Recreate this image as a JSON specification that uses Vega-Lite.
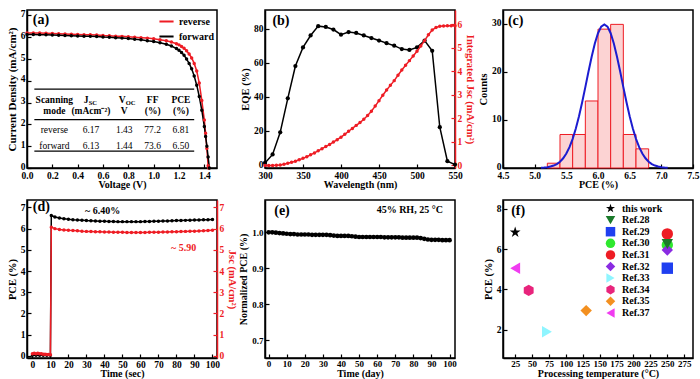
{
"$schema":"https://vega.github.io/schema/vega-lite/v6.json",
"background":"white",
"padding":{"left":5,"top":7,"right":0,"bottom":0},
"bounds":"flush",
"columns":3,
"spacing":{"row":32,"column":48},
"resolve":{"scale":{"color":"independent","shape":"independent"},"legend":{"color":"independent","shape":"independent"}},
"config":{
 "view":{"stroke":"black","strokeWidth":1.5},
 "font":"Liberation Serif",
 "axis":{"labelFont":"Liberation Serif","labelFontWeight":"bold","labelFontSize":9.5,"labelColor":"black","titleFont":"Liberation Serif","titleFontWeight":"bold","titleFontSize":10.5,"titleColor":"black","domainColor":"black","domainWidth":1.5,"tickColor":"black","tickWidth":1.2,"tickSize":-4,"labelPadding":6,"grid":false,"titlePadding":3,"labelFlush":false,"labelOverlap":false},
 "axisX":{"titleFontSize":10,"labelPadding":5,"titlePadding":0},
 "legend":{"labelFont":"Liberation Serif","labelFontWeight":"bold","labelFontSize":10,"labelColor":"black"},
 "text":{"font":"Liberation Serif"}
},
"datasets":{
 "jv":[
  {"V":0,"J":6.20,"scan":"reverse"},{"V":0.05,"J":6.20,"scan":"reverse"},{"V":0.1,"J":6.19,"scan":"reverse"},{"V":0.15,"J":6.18,"scan":"reverse"},{"V":0.2,"J":6.17,"scan":"reverse"},{"V":0.25,"J":6.16,"scan":"reverse"},{"V":0.3,"J":6.15,"scan":"reverse"},{"V":0.35,"J":6.14,"scan":"reverse"},{"V":0.4,"J":6.13,"scan":"reverse"},{"V":0.45,"J":6.12,"scan":"reverse"},{"V":0.5,"J":6.11,"scan":"reverse"},{"V":0.55,"J":6.10,"scan":"reverse"},{"V":0.6,"J":6.08,"scan":"reverse"},{"V":0.65,"J":6.07,"scan":"reverse"},{"V":0.7,"J":6.05,"scan":"reverse"},{"V":0.75,"J":6.04,"scan":"reverse"},{"V":0.8,"J":6.02,"scan":"reverse"},{"V":0.85,"J":6.00,"scan":"reverse"},{"V":0.9,"J":5.98,"scan":"reverse"},{"V":0.95,"J":5.96,"scan":"reverse"},{"V":1.0,"J":5.93,"scan":"reverse"},{"V":1.05,"J":5.89,"scan":"reverse"},{"V":1.1,"J":5.84,"scan":"reverse"},{"V":1.14,"J":5.78,"scan":"reverse"},{"V":1.18,"J":5.70,"scan":"reverse"},{"V":1.2,"J":5.65,"scan":"reverse"},{"V":1.22,"J":5.58,"scan":"reverse"},{"V":1.24,"J":5.49,"scan":"reverse"},{"V":1.26,"J":5.38,"scan":"reverse"},{"V":1.28,"J":5.23,"scan":"reverse"},{"V":1.30,"J":5.05,"scan":"reverse"},{"V":1.32,"J":4.80,"scan":"reverse"},{"V":1.34,"J":4.45,"scan":"reverse"},{"V":1.36,"J":3.90,"scan":"reverse"},{"V":1.38,"J":3.10,"scan":"reverse"},{"V":1.40,"J":2.20,"scan":"reverse"},{"V":1.41,"J":1.60,"scan":"reverse"},{"V":1.42,"J":0.90,"scan":"reverse"},{"V":1.43,"J":0.10,"scan":"reverse"},{"V":1.435,"J":0,"scan":"reverse"},
  {"V":0,"J":6.13,"scan":"forward"},{"V":0.05,"J":6.13,"scan":"forward"},{"V":0.1,"J":6.12,"scan":"forward"},{"V":0.15,"J":6.11,"scan":"forward"},{"V":0.2,"J":6.10,"scan":"forward"},{"V":0.25,"J":6.09,"scan":"forward"},{"V":0.3,"J":6.08,"scan":"forward"},{"V":0.35,"J":6.07,"scan":"forward"},{"V":0.4,"J":6.06,"scan":"forward"},{"V":0.45,"J":6.05,"scan":"forward"},{"V":0.5,"J":6.04,"scan":"forward"},{"V":0.55,"J":6.03,"scan":"forward"},{"V":0.6,"J":6.01,"scan":"forward"},{"V":0.65,"J":6.00,"scan":"forward"},{"V":0.7,"J":5.98,"scan":"forward"},{"V":0.75,"J":5.96,"scan":"forward"},{"V":0.8,"J":5.94,"scan":"forward"},{"V":0.85,"J":5.91,"scan":"forward"},{"V":0.9,"J":5.88,"scan":"forward"},{"V":0.95,"J":5.84,"scan":"forward"},{"V":1.0,"J":5.80,"scan":"forward"},{"V":1.05,"J":5.75,"scan":"forward"},{"V":1.1,"J":5.68,"scan":"forward"},{"V":1.14,"J":5.60,"scan":"forward"},{"V":1.18,"J":5.48,"scan":"forward"},{"V":1.2,"J":5.40,"scan":"forward"},{"V":1.22,"J":5.30,"scan":"forward"},{"V":1.24,"J":5.17,"scan":"forward"},{"V":1.26,"J":5.00,"scan":"forward"},{"V":1.28,"J":4.80,"scan":"forward"},{"V":1.30,"J":4.55,"scan":"forward"},{"V":1.32,"J":4.22,"scan":"forward"},{"V":1.34,"J":3.80,"scan":"forward"},{"V":1.36,"J":3.28,"scan":"forward"},{"V":1.38,"J":2.65,"scan":"forward"},{"V":1.40,"J":1.90,"scan":"forward"},{"V":1.41,"J":1.45,"scan":"forward"},{"V":1.42,"J":1.00,"scan":"forward"},{"V":1.43,"J":0.50,"scan":"forward"},{"V":1.44,"J":0,"scan":"forward"}
 ],
 "eqe":[
  {"wl":300,"eqe":1},{"wl":310,"eqe":6},{"wl":320,"eqe":19},{"wl":330,"eqe":39},{"wl":340,"eqe":58},{"wl":350,"eqe":69},{"wl":360,"eqe":76},{"wl":370,"eqe":81.5},{"wl":380,"eqe":81},{"wl":390,"eqe":79.5},{"wl":400,"eqe":76.5},{"wl":410,"eqe":78},{"wl":420,"eqe":77.5},{"wl":430,"eqe":76},{"wl":440,"eqe":74.5},{"wl":450,"eqe":73},{"wl":460,"eqe":71.5},{"wl":470,"eqe":70},{"wl":480,"eqe":68},{"wl":490,"eqe":67.5},{"wl":500,"eqe":69},{"wl":510,"eqe":73},{"wl":520,"eqe":67},{"wl":530,"eqe":22},{"wl":540,"eqe":2},{"wl":550,"eqe":0}
 ],
 "ijsc":[
  {"wl":300,"js":0},{"wl":305,"js":0},{"wl":310,"js":0},{"wl":315,"js":0.01},{"wl":320,"js":0.02},{"wl":325,"js":0.05},{"wl":330,"js":0.09},{"wl":335,"js":0.13},{"wl":340,"js":0.18},{"wl":345,"js":0.24},{"wl":350,"js":0.30},{"wl":355,"js":0.37},{"wl":360,"js":0.45},{"wl":365,"js":0.53},{"wl":370,"js":0.62},{"wl":375,"js":0.71},{"wl":380,"js":0.80},{"wl":385,"js":0.89},{"wl":390,"js":0.99},{"wl":395,"js":1.09},{"wl":400,"js":1.20},{"wl":405,"js":1.32},{"wl":410,"js":1.45},{"wl":415,"js":1.57},{"wl":420,"js":1.70},{"wl":425,"js":1.82},{"wl":430,"js":1.96},{"wl":435,"js":2.12},{"wl":440,"js":2.30},{"wl":445,"js":2.52},{"wl":450,"js":2.75},{"wl":455,"js":2.98},{"wl":460,"js":3.20},{"wl":465,"js":3.40},{"wl":470,"js":3.60},{"wl":475,"js":3.83},{"wl":480,"js":4.05},{"wl":485,"js":4.25},{"wl":490,"js":4.45},{"wl":495,"js":4.65},{"wl":500,"js":4.85},{"wl":505,"js":5.07},{"wl":510,"js":5.30},{"wl":515,"js":5.55},{"wl":520,"js":5.75},{"wl":525,"js":5.86},{"wl":530,"js":5.91},{"wl":535,"js":5.92},{"wl":540,"js":5.93},{"wl":545,"js":5.93},{"wl":550,"js":5.93}
 ],
 "hist":[
  {"pce":5.2,"hi":5.4,"n":1},{"pce":5.4,"hi":5.6,"n":7},{"pce":5.6,"hi":5.8,"n":7},{"pce":5.8,"hi":6.0,"n":14},{"pce":6.0,"hi":6.2,"n":29},{"pce":6.2,"hi":6.4,"n":30},{"pce":6.4,"hi":6.6,"n":7},{"pce":6.6,"hi":6.8,"n":4}
 ],
 "gauss":[
  {"pce":5.10,"n":0.05},{"pce":5.15,"n":0.09},{"pce":5.20,"n":0.17},{"pce":5.25,"n":0.30},{"pce":5.30,"n":0.51},{"pce":5.35,"n":0.83},{"pce":5.40,"n":1.32},{"pce":5.45,"n":2.03},{"pce":5.50,"n":3.02},{"pce":5.55,"n":4.36},{"pce":5.60,"n":6.09},{"pce":5.65,"n":8.25},{"pce":5.70,"n":10.81},{"pce":5.75,"n":13.73},{"pce":5.80,"n":16.90},{"pce":5.85,"n":20.14},{"pce":5.90,"n":23.24},{"pce":5.95,"n":25.99},{"pce":6.00,"n":28.15},{"pce":6.05,"n":29.53},{"pce":6.10,"n":30.0},{"pce":6.15,"n":29.53},{"pce":6.20,"n":28.15},{"pce":6.25,"n":25.99},{"pce":6.30,"n":23.24},{"pce":6.35,"n":20.14},{"pce":6.40,"n":16.90},{"pce":6.45,"n":13.73},{"pce":6.50,"n":10.81},{"pce":6.55,"n":8.25},{"pce":6.60,"n":6.09},{"pce":6.65,"n":4.36},{"pce":6.70,"n":3.02},{"pce":6.75,"n":2.03},{"pce":6.80,"n":1.32},{"pce":6.85,"n":0.83},{"pce":6.90,"n":0.51},{"pce":6.95,"n":0.30},{"pce":7.00,"n":0.17},{"pce":7.05,"n":0.09},{"pce":7.10,"n":0.05}
 ],
 "pcet":[
  {"t":0,"v":0.03},{"t":2,"v":0.03},{"t":4,"v":0.03},{"t":6,"v":0.03},{"t":8,"v":0.03},{"t":10,"v":0.03},{"t":10.5,"v":6.62},{"t":12.5,"v":6.55},{"t":15,"v":6.5},{"t":17.5,"v":6.47},{"t":20,"v":6.44},{"t":22.5,"v":6.42},{"t":25,"v":6.41},{"t":27.5,"v":6.4},{"t":30,"v":6.38},{"t":32.5,"v":6.37},{"t":35,"v":6.36},{"t":37.5,"v":6.35},{"t":40,"v":6.35},{"t":42.5,"v":6.34},{"t":45,"v":6.34},{"t":47.5,"v":6.33},{"t":50,"v":6.33},{"t":52.5,"v":6.33},{"t":55,"v":6.33},{"t":57.5,"v":6.33},{"t":60,"v":6.33},{"t":62.5,"v":6.34},{"t":65,"v":6.34},{"t":67.5,"v":6.35},{"t":70,"v":6.35},{"t":72.5,"v":6.36},{"t":75,"v":6.36},{"t":77.5,"v":6.37},{"t":80,"v":6.38},{"t":82.5,"v":6.38},{"t":85,"v":6.39},{"t":87.5,"v":6.4},{"t":90,"v":6.41},{"t":92.5,"v":6.41},{"t":95,"v":6.42},{"t":97.5,"v":6.42},{"t":100,"v":6.43}
 ],
 "jsct":[
  {"t":0,"v":0.1},{"t":1,"v":0.12},{"t":2,"v":0.1},{"t":3,"v":0.12},{"t":4,"v":0.1},{"t":5,"v":0.1},{"t":6,"v":0.08},{"t":7,"v":0.08},{"t":8,"v":0.06},{"t":9,"v":0.06},{"t":10,"v":0.05},{"t":10.5,"v":6.07},{"t":12.5,"v":6.0},{"t":15,"v":5.96},{"t":17.5,"v":5.94},{"t":20,"v":5.92},{"t":22.5,"v":5.91},{"t":25,"v":5.9},{"t":27.5,"v":5.88},{"t":30,"v":5.87},{"t":32.5,"v":5.86},{"t":35,"v":5.85},{"t":37.5,"v":5.85},{"t":40,"v":5.84},{"t":42.5,"v":5.84},{"t":45,"v":5.83},{"t":47.5,"v":5.83},{"t":50,"v":5.83},{"t":52.5,"v":5.82},{"t":55,"v":5.82},{"t":57.5,"v":5.82},{"t":60,"v":5.82},{"t":62.5,"v":5.82},{"t":65,"v":5.83},{"t":67.5,"v":5.83},{"t":70,"v":5.83},{"t":72.5,"v":5.84},{"t":75,"v":5.84},{"t":77.5,"v":5.85},{"t":80,"v":5.85},{"t":82.5,"v":5.86},{"t":85,"v":5.87},{"t":87.5,"v":5.88},{"t":90,"v":5.88},{"t":92.5,"v":5.89},{"t":95,"v":5.9},{"t":97.5,"v":5.91},{"t":100,"v":5.92}
 ],
 "stab":[
  {"day":0,"n":1.000},{"day":2,"n":1.000},{"day":4,"n":0.999},{"day":6,"n":0.998},{"day":8,"n":0.997},{"day":10,"n":0.996},{"day":12,"n":0.995},{"day":14,"n":0.995},{"day":16,"n":0.994},{"day":18,"n":0.994},{"day":20,"n":0.994},{"day":22,"n":0.994},{"day":24,"n":0.993},{"day":26,"n":0.993},{"day":28,"n":0.993},{"day":30,"n":0.993},{"day":32,"n":0.993},{"day":34,"n":0.992},{"day":36,"n":0.991},{"day":38,"n":0.990},{"day":40,"n":0.990},{"day":42,"n":0.990},{"day":44,"n":0.990},{"day":46,"n":0.989},{"day":48,"n":0.988},{"day":50,"n":0.987},{"day":52,"n":0.987},{"day":54,"n":0.987},{"day":56,"n":0.987},{"day":58,"n":0.987},{"day":60,"n":0.987},{"day":62,"n":0.987},{"day":64,"n":0.986},{"day":66,"n":0.986},{"day":68,"n":0.986},{"day":70,"n":0.986},{"day":72,"n":0.986},{"day":74,"n":0.985},{"day":76,"n":0.985},{"day":78,"n":0.985},{"day":80,"n":0.985},{"day":82,"n":0.985},{"day":84,"n":0.984},{"day":86,"n":0.982},{"day":88,"n":0.980},{"day":90,"n":0.979},{"day":92,"n":0.979},{"day":94,"n":0.979},{"day":96,"n":0.978},{"day":98,"n":0.978},{"day":100,"n":0.978}
 ],
 "refs":[
  {"temp":250,"pce":6.2,"ref":"Ref.30"},
  {"temp":250,"pce":6.75,"ref":"Ref.31"},
  {"temp":250,"pce":5.95,"ref":"Ref.32"},
  {"temp":250,"pce":6.25,"ref":"Ref.28"},
  {"temp":250,"pce":5.05,"ref":"Ref.29"},
  {"temp":72,"pce":1.9,"ref":"Ref.33"},
  {"temp":45,"pce":3.95,"ref":"Ref.34"},
  {"temp":130,"pce":2.95,"ref":"Ref.35"},
  {"temp":25,"pce":5.05,"ref":"Ref.37"},
  {"temp":25,"pce":6.83,"ref":"this work"}
 ]
},
"concat":[
 {
  "width":190,"height":158,
  "layer":[
   {"data":{"name":"jv"},"mark":{"type":"line","strokeWidth":1.5},
    "encoding":{
     "x":{"field":"V","type":"quantitative","scale":{"domain":[0,1.5],"nice":false},"axis":{"title":"Voltage (V)","values":[0,0.2,0.4,0.6,0.8,1,1.2,1.4],"tickCount":30,"format":".1f","labelPadding":6}},
     "y":{"field":"J","type":"quantitative","scale":{"domain":[0,7.25],"nice":false},"axis":{"title":"Current Density (mA/cm²)","titleFontSize":11,"values":[0,1,2,3,4,5,6,7],"tickCount":30,"format":"d","labelOffset":-2}},
     "color":{"field":"scan","type":"nominal","scale":{"domain":["reverse","forward"],"range":["#ee1c24","black"]},"legend":{"title":null,"orient":"top-right","offset":3,"padding":0,"symbolType":"stroke","symbolStrokeWidth":2,"symbolSize":200,"rowPadding":1}}
    }},
   {"data":{"name":"jv"},"mark":{"type":"point","filled":true,"size":12,"opacity":1},
    "encoding":{
     "x":{"field":"V","type":"quantitative"},
     "y":{"field":"J","type":"quantitative"},
     "color":{"field":"scan","type":"nominal"}
    }},
   {"data":{"values":[{"J":3.62},{"J":2.22},{"J":0.77}]},"mark":{"type":"rule","color":"black","strokeWidth":1.2},
    "encoding":{"y":{"field":"J","type":"quantitative"},"x":{"datum":0.058},"x2":{"datum":1.32}}},
   {"data":{"values":[{"V":0.216,"J":3.1,"t":"Scanning"},{"V":0.216,"J":2.6,"t":"mode"},{"V":0.466,"J":3.1,"t":"J"},{"V":0.505,"J":2.6,"t":"(mAcm⁻²)"},{"V":0.752,"J":3.1,"t":"V"},{"V":0.768,"J":2.6,"t":"V"},{"V":0.992,"J":3.1,"t":"FF"},{"V":0.992,"J":2.6,"t":"(%)"},{"V":1.215,"J":3.1,"t":"PCE"},{"V":1.215,"J":2.6,"t":"(%)"}]},
    "mark":{"type":"text","fontWeight":"bold","fontSize":9.5,"baseline":"middle","color":"black"},
    "encoding":{"x":{"field":"V","type":"quantitative"},"y":{"field":"J","type":"quantitative"},"text":{"field":"t"}}},
   {"data":{"values":[{"V":0.487,"J":2.98,"t":"SC"},{"V":0.779,"J":2.98,"t":"OC"}]},
    "mark":{"type":"text","fontWeight":"bold","fontSize":6.5,"baseline":"middle","align":"left","color":"black"},
    "encoding":{"x":{"field":"V","type":"quantitative"},"y":{"field":"J","type":"quantitative"},"text":{"field":"t"}}},
   {"data":{"values":[{"V":0.216,"J":1.73,"t":"reverse"},{"V":0.505,"J":1.73,"t":"6.17"},{"V":0.768,"J":1.73,"t":"1.43"},{"V":0.992,"J":1.73,"t":"77.2"},{"V":1.215,"J":1.73,"t":"6.81"},{"V":0.216,"J":1.0,"t":"forward"},{"V":0.505,"J":1.0,"t":"6.13"},{"V":0.768,"J":1.0,"t":"1.44"},{"V":0.992,"J":1.0,"t":"73.6"},{"V":1.215,"J":1.0,"t":"6.50"}]},
    "mark":{"type":"text","fontSize":9.5,"baseline":"middle","color":"black"},
    "encoding":{"x":{"field":"V","type":"quantitative"},"y":{"field":"J","type":"quantitative"},"text":{"field":"t"}}},
   {"data":{"values":[{"V":0.11,"J":6.78,"t":"(a)"}]},
    "mark":{"type":"text","fontWeight":"bold","fontSize":14,"baseline":"middle","color":"black"},
    "encoding":{"x":{"field":"V","type":"quantitative"},"y":{"field":"J","type":"quantitative"},"text":{"field":"t"}}}
  ]
 },
 {
  "width":190,"height":158,
  "layer":[
   {"layer":[
     {"data":{"name":"eqe"},"mark":{"type":"line","color":"black","strokeWidth":1.5},
      "encoding":{
       "x":{"field":"wl","type":"quantitative","scale":{"domain":[300,550],"nice":false},"axis":{"title":"Wavelength (nm)","values":[300,350,400,450,500,550],"tickCount":30,"format":"d","labelPadding":6}},
       "y":{"field":"eqe","type":"quantitative","scale":{"domain":[-2,91],"nice":false},"axis":{"title":"EQE (%)","values":[0,20,40,60,80],"tickCount":30,"format":"d"}}
      }},
     {"data":{"name":"eqe"},"mark":{"type":"point","filled":true,"color":"black","size":18,"opacity":1},
      "encoding":{"x":{"field":"wl","type":"quantitative"},"y":{"field":"eqe","type":"quantitative"}}},
     {"data":{"values":[{"wl":321,"eqe":84.5,"t":"(b)"}]},"mark":{"type":"text","fontWeight":"bold","fontSize":14,"baseline":"middle","color":"black"},
      "encoding":{"x":{"field":"wl","type":"quantitative"},"y":{"field":"eqe","type":"quantitative"},"text":{"field":"t"}}}
   ]},
   {"layer":[
     {"data":{"name":"ijsc"},"mark":{"type":"line","color":"#ee1c24","strokeWidth":1.5},
      "encoding":{
       "x":{"field":"wl","type":"quantitative"},
       "y":{"field":"js","type":"quantitative","scale":{"domain":[-0.11,6.6],"nice":false},"axis":{"orient":"right","title":"Integrated Jsc (mA/cm²)","values":[0,1,2,3,4,5,6],"tickCount":30,"format":"d","labelColor":"#ee1c24","titleColor":"#ee1c24","tickColor":"#ee1c24","domainColor":"#ee1c24"}}
      }},
     {"data":{"name":"ijsc"},"mark":{"type":"point","filled":true,"color":"#ee1c24","size":12,"opacity":1},
      "encoding":{"x":{"field":"wl","type":"quantitative"},"y":{"field":"js","type":"quantitative"}}}
   ]}
  ],
  "resolve":{"scale":{"y":"independent"}}
 },
 {
  "width":190,"height":158,
  "layer":[
   {"data":{"name":"hist"},"mark":{"type":"rect","fill":"#fcd3d3","stroke":"#ee1c24","strokeWidth":1},
    "encoding":{
     "x":{"field":"pce","type":"quantitative","scale":{"domain":[4.5,7.5],"nice":false},"axis":{"title":"PCE (%)","values":[4.5,5,5.5,6,6.5,7,7.5],"tickCount":30,"format":".1f","labelPadding":6}},
     "x2":{"field":"hi"},
     "y":{"field":"n","type":"quantitative","scale":{"domain":[0,33],"nice":false},"axis":{"title":"Counts","values":[0,10,20,30],"tickCount":30,"format":"d","labelOffset":-2}},
     "y2":{"datum":0}
    }},
   {"data":{"name":"gauss"},"mark":{"type":"line","color":"#1c1cd0","strokeWidth":2},
    "encoding":{"x":{"field":"pce","type":"quantitative"},"y":{"field":"n","type":"quantitative"}}},
   {"data":{"values":[{"pce":4.7,"n":30.6,"t":"(c)"}]},"mark":{"type":"text","fontWeight":"bold","fontSize":14,"baseline":"middle","color":"black"},
    "encoding":{"x":{"field":"pce","type":"quantitative"},"y":{"field":"n","type":"quantitative"},"text":{"field":"t"}}}
  ]
 },
 {
  "width":190,"height":158,
  "layer":[
   {"layer":[
     {"data":{"name":"pcet"},"mark":{"type":"line","color":"black","strokeWidth":1.5},
      "encoding":{
       "x":{"field":"t","type":"quantitative","scale":{"domain":[-3,102.5],"nice":false},"axis":{"title":"Time (sec)","values":[0,10,20,30,40,50,60,70,80,90,100],"tickCount":30,"format":"d"}},
       "y":{"field":"v","type":"quantitative","scale":{"domain":[-0.1,7.35],"nice":false},"axis":{"title":"PCE (%)","values":[0,1,2,3,4,5,6,7],"tickCount":30,"format":"d"}}
      }},
     {"data":{"name":"pcet"},"mark":{"type":"point","filled":true,"color":"black","size":12,"opacity":1},
      "encoding":{"x":{"field":"t","type":"quantitative"},"y":{"field":"v","type":"quantitative"}}},
     {"data":{"values":[{"t":5,"v":7.0,"t2":"(d)"}]},"mark":{"type":"text","fontWeight":"bold","fontSize":14,"baseline":"middle","color":"black"},
      "encoding":{"x":{"field":"t","type":"quantitative"},"y":{"field":"v","type":"quantitative"},"text":{"field":"t2"}}},
     {"data":{"values":[{"t":39,"v":6.84,"t2":"~ 6.40%"}]},"mark":{"type":"text","fontWeight":"bold","fontSize":10,"baseline":"middle","color":"black"},
      "encoding":{"x":{"field":"t","type":"quantitative"},"y":{"field":"v","type":"quantitative"},"text":{"field":"t2"}}}
   ]},
   {"layer":[
     {"data":{"name":"jsct"},"mark":{"type":"line","color":"#ee1c24","strokeWidth":1.5},
      "encoding":{
       "x":{"field":"t","type":"quantitative"},
       "y":{"field":"v","type":"quantitative","scale":{"domain":[-0.1,7.35],"nice":false},"axis":{"orient":"right","title":"Jsc (mA/cm²)","values":[0,1,2,3,4,5,6,7],"tickCount":30,"format":"d","labelColor":"#ee1c24","titleColor":"#ee1c24","tickColor":"#ee1c24","domainColor":"#ee1c24"}}
      }},
     {"data":{"name":"jsct"},"mark":{"type":"point","filled":true,"color":"#ee1c24","size":12,"opacity":1},
      "encoding":{"x":{"field":"t","type":"quantitative"},"y":{"field":"v","type":"quantitative"}}},
     {"data":{"values":[{"t":84,"v":5.1,"t2":"~ 5.90"}]},"mark":{"type":"text","fontWeight":"bold","fontSize":10,"baseline":"middle","color":"#ee1c24"},
      "encoding":{"x":{"field":"t","type":"quantitative"},"y":{"field":"v","type":"quantitative"},"text":{"field":"t2"}}}
   ]}
  ],
  "resolve":{"scale":{"y":"independent"}}
 },
 {
  "width":190,"height":158,
  "layer":[
   {"data":{"name":"stab"},"mark":{"type":"line","color":"black","strokeWidth":1.5},
    "encoding":{
     "x":{"field":"day","type":"quantitative","scale":{"domain":[-2,103],"nice":false},"axis":{"title":"Time (day)","values":[0,10,20,30,40,50,60,70,80,90,100],"tickCount":30,"format":"d","labelFontSize":9}},
     "y":{"field":"n","type":"quantitative","scale":{"domain":[0.65,1.09],"nice":false},"axis":{"title":"Normalized PCE (%)","values":[0.7,0.8,0.9,1.0],"tickCount":30,"format":".1f","labelFontSize":9,"titleFontSize":10}}
    }},
   {"data":{"name":"stab"},"mark":{"type":"point","filled":true,"color":"black","size":22,"opacity":1},
    "encoding":{"x":{"field":"day","type":"quantitative"},"y":{"field":"n","type":"quantitative"}}},
   {"data":{"values":[{"day":7.4,"n":1.06,"t":"(e)"}]},"mark":{"type":"text","fontWeight":"bold","fontSize":14,"baseline":"middle","color":"black"},
    "encoding":{"x":{"field":"day","type":"quantitative"},"y":{"field":"n","type":"quantitative"},"text":{"field":"t"}}},
   {"data":{"values":[{"day":78,"n":1.061,"t":"45% RH, 25 °C"}]},"mark":{"type":"text","fontWeight":"bold","fontSize":10,"baseline":"middle","color":"black"},
    "encoding":{"x":{"field":"day","type":"quantitative"},"y":{"field":"n","type":"quantitative"},"text":{"field":"t"}}}
  ]
 },
 {
  "width":190,"height":158,
  "layer":[
   {"data":{"name":"refs"},"mark":{"type":"point","filled":true,"size":130,"opacity":1},
    "encoding":{
     "x":{"field":"temp","type":"quantitative","scale":{"domain":[7,288],"nice":false},"axis":{"title":"Processing temperature (°C)","values":[25,50,75,100,125,150,175,200,225,250,275],"tickCount":30,"format":"d","labelFontSize":9}},
     "y":{"field":"pce","type":"quantitative","scale":{"domain":[0.6,8.43],"nice":false},"axis":{"title":"PCE (%)","values":[2,4,6,8],"tickCount":30,"format":"d"}},
     "color":{"field":"ref","type":"nominal","scale":{"domain":["this work","Ref.28","Ref.29","Ref.30","Ref.31","Ref.32","Ref.33","Ref.34","Ref.35","Ref.37"],"range":["black","#1a7a2a","#1f3ff0","#2ee82e","#ee1c24","#8a2be2","#8ff5ff","#e8247c","#f39020","#f03cf0"]},
      "legend":{"title":null,"orient":"none","legendX":102,"legendY":3,"symbolSize":90,"rowPadding":0.6,"padding":0,"labelOffset":6}},
     "shape":{"field":"ref","type":"nominal","scale":{"domain":["this work","Ref.28","Ref.29","Ref.30","Ref.31","Ref.32","Ref.33","Ref.34","Ref.35","Ref.37"],"range":["M0,-1L0.2245,-0.309L0.951,-0.309L0.363,0.118L0.588,0.809L0,0.382L-0.588,0.809L-0.363,0.118L-0.951,-0.309L-0.2245,-0.309Z","triangle-down","square","circle","circle","diamond","triangle-right","M0,-1L0.866,-0.5L0.866,0.5L0,1L-0.866,0.5L-0.866,-0.5Z","diamond","triangle-left"]},
      "legend":{"title":null,"orient":"none","legendX":102,"legendY":3,"symbolSize":90,"rowPadding":0.6,"padding":0,"labelOffset":6}}
    }},
   {"data":{"values":[{"temp":29.4,"pce":7.87,"t":"(f)"}]},"mark":{"type":"text","fontWeight":"bold","fontSize":14,"baseline":"middle","color":"black"},
    "encoding":{"x":{"field":"temp","type":"quantitative"},"y":{"field":"pce","type":"quantitative"},"text":{"field":"t"}}}
  ]
 }
]
}
